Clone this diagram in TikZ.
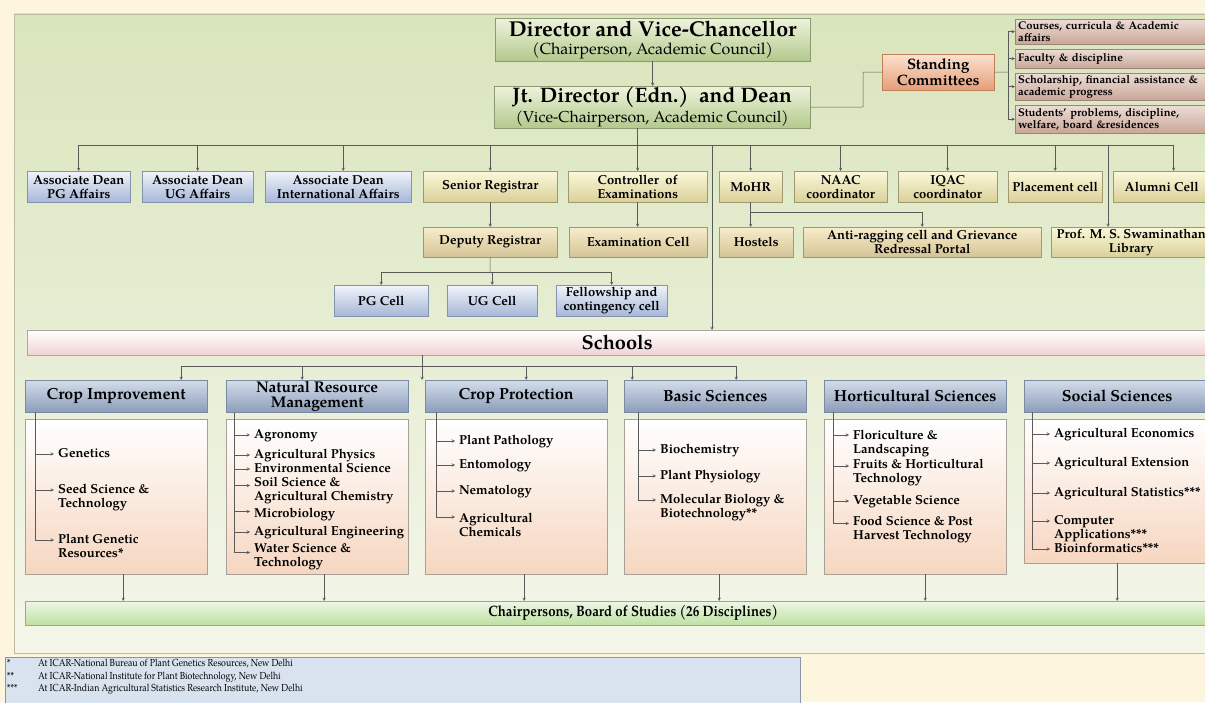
\documentclass[tikz,border=0pt]{standalone}
\usepackage{fontspec}
\setmainfont{texgyrepagella}[Extension=.otf,UprightFont=*-regular,BoldFont=*-bold,ItalicFont=*-italic,BoldItalicFont=*-bolditalic]

\definecolor{cream}{HTML}{FDF5DD}
\definecolor{panelTop}{HTML}{D9E5BC}
\definecolor{panelBot}{HTML}{F4F6EA}
\definecolor{panelLine}{HTML}{B9BCA0}
\definecolor{lineGray}{HTML}{5A5A5A}
\definecolor{dirTop}{HTML}{EEF3DC}
\definecolor{dirBot}{HTML}{B3C98D}
\definecolor{dirLine}{HTML}{8C9A72}
\definecolor{stTop}{HTML}{FBE2D0}
\definecolor{stBot}{HTML}{E59E78}
\definecolor{stLine}{HTML}{BF7D58}
\definecolor{cmTop}{HTML}{EDDDD6}
\definecolor{cmBot}{HTML}{C9A698}
\definecolor{cmLine}{HTML}{9C8478}
\definecolor{bluTop}{HTML}{F0F4FB}
\definecolor{bluBot}{HTML}{A6B7D6}
\definecolor{bluLine}{HTML}{8393AE}
\definecolor{ylwTop}{HTML}{FBF8DA}
\definecolor{ylwBot}{HTML}{D9D098}
\definecolor{tanTop}{HTML}{F7EDCB}
\definecolor{tanBot}{HTML}{D5C396}
\definecolor{ylwLine}{HTML}{A09870}
\definecolor{schBot}{HTML}{EFD3D3}
\definecolor{schLine}{HTML}{AFA8A0}
\definecolor{hdTop}{HTML}{D3DCEA}
\definecolor{hdBot}{HTML}{8C9DBA}
\definecolor{hdLine}{HTML}{7A8AA2}
\definecolor{cbBot}{HTML}{F6D6C0}
\definecolor{cbLine}{HTML}{A9A198}
\definecolor{chTop}{HTML}{EEF7E6}
\definecolor{chBot}{HTML}{BDE0A2}
\definecolor{chLine}{HTML}{98A888}
\definecolor{fnFill}{HTML}{D9E3EF}
\definecolor{fnLine}{HTML}{8A96A8}

\newcommand{\fsz}[2]{\fontsize{#1}{#2}\selectfont}

\begin{document}
\begin{tikzpicture}[x=1pt,y=1pt,>=stealth,
    line/.style={draw=lineGray,line width=0.5pt},
    arr/.style={line,->},
    abox/.style={anchor=north west,inner sep=1pt,align=center,font=\bfseries\fsz{13}{14}},
    dirbox/.style={abox,draw=dirLine,top color=dirTop,bottom color=dirBot},
    stbox/.style={abox,draw=stLine,top color=stTop,bottom color=stBot,font=\bfseries\fsz{15}{16}},
    cmbox/.style={abox,align=left,text width=189,inner xsep=3pt,draw=cmLine,top color=cmTop,bottom color=cmBot,font=\bfseries\fsz{11.2}{12}},
    bluebox/.style={abox,draw=bluLine,top color=bluTop,bottom color=bluBot},
    ylwbox/.style={abox,draw=ylwLine,top color=ylwTop,bottom color=ylwBot},
    tanbox/.style={abox,draw=ylwLine,top color=tanTop,bottom color=tanBot},
    schbox/.style={abox,draw=schLine,top color=white,bottom color=schBot,font=\bfseries\fsz{20}{20}},
    hdbox/.style={abox,draw=hdLine,top color=hdTop,bottom color=hdBot,minimum width=182,minimum height=32,font=\bfseries\fsz{16}{15}},
    cbox/.style={anchor=north west,draw=cbLine,top color=white,bottom color=cbBot,minimum width=182,minimum height=155},
    item/.style={anchor=north west,inner xsep=4pt,inner ysep=0pt,align=left,font=\bfseries\fsz{13}{14}},
    chbox/.style={abox,draw=chLine,top color=chTop,bottom color=chBot,font=\bfseries\fsz{15}{14}\addfontfeatures{FakeStretch=0.88}}]
\useasboundingbox (0,0) rectangle (1205,702);
% background
\fill[cream] (0,0) rectangle (1205,702);
\path[draw=panelLine,top color=panelTop,bottom color=panelBot] (14,49) rectangle (1215,688);
\path[draw=fnLine,fill=fnFill] (5,-5) rectangle (800,45);

% top of the chart
\node[dirbox,minimum width=315,minimum height=43] (dir) at (495,684) {{\fsz{21.5}{22}Director and Vice-Chancellor}\\[4pt]{\mdseries\fsz{16}{16}(Chairperson, Academic Council)}};
\node[dirbox,minimum width=316,minimum height=42] (jt) at (494,616) {{\fsz{21}{22}Jt. Director (Edn.)\ \ and Dean}\\[2pt]{\mdseries\fsz{15.8}{16}(Vice-Chairperson, Academic Council)}};
\node[stbox,minimum width=112,minimum height=36] (stc) at (882,648) {Standing\\Committees};
\node[cmbox,minimum height=25] (cm1) at (1015,683) {Courses, curricula \& Academic\\affairs};
\node[cmbox,minimum height=19] (cm2) at (1015,653) {Faculty \& discipline};
\node[cmbox,minimum height=27] (cm3) at (1015,629) {Scholarship, financial assistance \&\\academic progress};
\node[cmbox,minimum height=28] (cm4) at (1015,597) {Students' problems, discipline,\\welfare, board \&residences};

% first row
\node[bluebox,minimum width=103,minimum height=31] (adpg) at (27,531) {Associate Dean\\PG Affairs};
\node[bluebox,minimum width=111,minimum height=31] (adug) at (142,531) {Associate Dean\\UG Affairs};
\node[bluebox,minimum width=146,minimum height=31] (adint) at (265,531) {Associate Dean\\International Affairs};
\node[ylwbox,minimum width=134,minimum height=31] (senreg) at (423,531) {Senior Registrar};
\node[ylwbox,minimum width=139,minimum height=31] (contr) at (568,531) {Controller\ \ of\\Examinations};
\node[ylwbox,minimum width=63,minimum height=31] (mohr) at (719,531) {MoHR};
\node[ylwbox,minimum width=93,minimum height=31] (naac) at (794,531) {NAAC\\coordinator};
\node[ylwbox,minimum width=99,minimum height=31] (iqac) at (898,531) {IQAC\\coordinator};
\node[ylwbox,minimum width=94,minimum height=31] (place) at (1008,531) {Placement cell};
\node[ylwbox,minimum width=97,minimum height=31] (alumni) at (1113,531) {Alumni Cell};

% second and third row
\node[tanbox,minimum width=134,minimum height=30] (depreg) at (423,475) {Deputy Registrar};
\node[tanbox,minimum width=138,minimum height=30] (exam) at (569,475) {Examination Cell};
\node[tanbox,minimum width=74,minimum height=30] (hostel) at (719,475) {Hostels};
\node[tanbox,minimum width=238,minimum height=30] (anti) at (803,475) {Anti-ragging cell and Grievance\\Redressal Portal};
\node[ylwbox,minimum width=160,minimum height=30] (lib) at (1051,475) {Prof. M. S. Swaminathan\\Library};
\node[bluebox,minimum width=94,minimum height=31] (pgc) at (334,417) {PG Cell};
\node[bluebox,minimum width=90,minimum height=31] (ugc) at (447,417) {UG Cell};
\node[bluebox,minimum width=111,minimum height=31] (fell) at (556,417) {Fellowship and\\contingency cell};

\node[schbox,minimum width=1180,minimum height=25] (schools) at (27,372) {Schools};

% schools
\node[hdbox] (hci) at (25,322) {Crop Improvement};
\node[hdbox,font=\bfseries\fsz{15.5}{15}] (hnrm) at (226,322) {Natural Resource\\Management};
\node[hdbox] (hcp) at (425,322) {Crop Protection};
\node[hdbox] (hbs) at (624,322) {Basic Sciences};
\node[hdbox] (hhs) at (824,322) {Horticultural Sciences};
\node[hdbox,minimum width=186] (hss) at (1024,322) {Social Sciences};
\node[cbox] (cci) at (25,283) {};
\node[cbox] (cnrm) at (226,283) {};
\node[cbox] (ccp) at (425,283) {};
\node[cbox] (cbs) at (624,283) {};
\node[cbox] (chs) at (824,283) {};
\node[cbox,minimum width=186,minimum height=144] (css) at (1024,283) {};

\node[item] (ci1) at (54,254) {Genetics};
\node[item] (ci2) at (54,218) {Seed Science \&\\Technology};
\node[item] (ci3) at (54,168) {Plant Genetic\\Resources*};
\node[item] (nr1) at (250,273) {Agronomy};
\node[item] (nr2) at (250,253) {Agricultural Physics};
\node[item] (nr3) at (250,239) {Environmental Science};
\node[item] (nr4) at (250,225) {Soil Science \&\\Agricultural Chemistry};
\node[item] (nr5) at (250,194) {Microbiology};
\node[item] (nr6) at (250,176) {Agricultural Engineering};
\node[item] (nr7) at (250,159) {Water Science \&\\Technology};
\node[item] (cp1) at (455,267) {Plant Pathology};
\node[item] (cp2) at (455,243) {Entomology};
\node[item] (cp3) at (455,217) {Nematology};
\node[item] (cp4) at (455,189) {Agricultural\\Chemicals};
\node[item] (bs1) at (656,258) {Biochemistry};
\node[item] (bs2) at (656,232) {Plant Physiology};
\node[item] (bs3) at (656,208) {Molecular Biology \&\\Biotechnology**};
\node[item] (hs1) at (849,272) {Floriculture \&\\Landscaping};
\node[item] (hs2) at (849,243) {Fruits \& Horticultural\\Technology};
\node[item] (hs3) at (849,207) {Vegetable Science};
\node[item] (hs4) at (849,186) {Food Science \& Post\\Harvest Technology};
\node[item] (ss1) at (1050,274) {Agricultural Economics};
\node[item] (ss2) at (1050,245) {Agricultural Extension};
\node[item] (ss3) at (1050,215) {Agricultural Statistics***};
\node[item] (ss4) at (1050,187) {Computer\\Applications***};
\node[item] (ss5) at (1050,159) {Bioinformatics***};

\node[chbox,minimum width=1216,minimum height=24] (chair) at (25,101) {Chairpersons, Board of Studies (26 Disciplines)};
\node[anchor=north west,inner sep=0pt,font=\fsz{10.2}{12.5}\addfontfeatures{FakeStretch=0.86}] (fn) at (7,44) {\begin{tabular}{@{}p{31pt}@{}l@{}}{*}&At ICAR-National Bureau of Plant Genetics Resources, New Delhi\\{**}&At ICAR-National Institute for Plant Biotechnology, New Delhi\\{***}&At ICAR-Indian Agricultural Statistics Research Institute, New Delhi\end{tabular}};

% connectors
\coordinate (sj) at (863,595);
\coordinate (cj) at (1008,630);
\coordinate (b1) at (637.5,557);
\coordinate (lj) at (1108,557);
\coordinate (sc) at (712,557);
\coordinate (mj) at (750.5,490);
\coordinate (dj) at (490,430);
\coordinate (sb) at (422,336);
\coordinate (sbend) at (422,322);
\draw[arr] (dir.south) -- (dir.south |- jt.north);
\draw[line] (jt.east) -- (sj) |- (stc.west);
\draw[line] (stc.east) -- (cj);
\draw[arr] (cj) |- (cm1.west);
\draw[arr] (cj) |- (cm2.west);
\draw[arr] (cj) |- (cm3.west);
\draw[arr] (cj) |- (cm4.west);
\draw[arr] (jt.south -| contr.north) -- (contr.north);
\draw[arr] (b1) -| (adpg);
\draw[arr] (b1) -| (adug);
\draw[arr] (b1) -| ([xshift=5]adint.north);
\draw[arr] (b1) -| (senreg);
\draw[arr] (b1) -| (mohr);
\draw[arr] (b1) -| (naac);
\draw[arr] (b1) -| (iqac);
\draw[arr] (b1) -| (place);
\draw[arr] (b1) -| ([xshift=12]alumni.north);
\draw[arr] (lj) -- (lj |- lib.north);
\draw[arr] (sc) -- (sc |- schools.north);
\draw[arr] (senreg) -- (depreg);
\draw[arr] (contr.south) -- (contr.south |- exam.north);
\draw[arr] (mohr.south) -- (mohr.south |- hostel.north);
\draw[arr] (mj) -| (anti);
\draw[line] (depreg.south) -- (dj);
\draw[arr] (dj) -| (pgc);
\draw[arr] (dj) -| (ugc);
\draw[arr] (dj) -| (fell);
\draw[arr] (schools.south -| sb) -- (sbend);
\draw[arr] (sb) -| ([xshift=65]hci.north);
\draw[arr] (sb) -| ([xshift=-15]hnrm.north);
\draw[arr] (sb) -| ([xshift=10]hcp.north);
\draw[arr] (sb) -| ([xshift=-83]hbs.north);
\draw[arr] (sb) -| ([xshift=21]hbs.north);
\draw[arr] (hci.south -| 35,0) |- ([yshift=-6]ci1.north west);
\draw[arr] (hci.south -| 35,0) |- ([yshift=-6]ci2.north west);
\draw[arr] (hci.south -| 35,0) |- ([yshift=-6]ci3.north west);
\draw[arr] (hnrm.south -| 234,0) |- ([yshift=-6]nr1.north west);
\draw[arr] (hnrm.south -| 234,0) |- ([yshift=-6]nr2.north west);
\draw[arr] (hnrm.south -| 234,0) |- ([yshift=-6]nr3.north west);
\draw[arr] (hnrm.south -| 234,0) |- ([yshift=-8.5]nr4.north west);
\draw[arr] (hnrm.south -| 234,0) |- ([yshift=-3.5]nr5.north west);
\draw[arr] (hnrm.south -| 234,0) |- ([yshift=-6]nr6.north west);
\draw[arr] (hnrm.south -| 234,0) |- ([yshift=-9.5]nr7.north west);
\draw[arr] (hcp.south -| 436,0) |- ([yshift=-6]cp1.north west);
\draw[arr] (hcp.south -| 436,0) |- ([yshift=-6]cp2.north west);
\draw[arr] (hcp.south -| 436,0) |- ([yshift=-6]cp3.north west);
\draw[arr] (hcp.south -| 436,0) |- ([yshift=-4]cp4.north west);
\draw[arr] (hbs.south -| 638,0) |- ([yshift=-6]bs1.north west);
\draw[arr] (hbs.south -| 638,0) |- ([yshift=-6]bs2.north west);
\draw[arr] (hbs.south -| 638,0) |- ([yshift=-6]bs3.north west);
\draw[arr] (hhs.south -| 833,0) |- ([yshift=-5]hs1.north west);
\draw[arr] (hhs.south -| 833,0) |- ([yshift=-7]hs2.north west);
\draw[arr] (hhs.south -| 833,0) |- ([yshift=-6]hs3.north west);
\draw[arr] (hhs.south -| 833,0) |- ([yshift=-7.5]hs4.north west);
\draw[arr] (hss.south -| 1032,0) |- ([yshift=-6]ss1.north west);
\draw[arr] (hss.south -| 1032,0) |- ([yshift=-6]ss2.north west);
\draw[arr] (hss.south -| 1032,0) |- ([yshift=-6]ss3.north west);
\draw[arr] (hss.south -| 1032,0) |- ([yshift=-6]ss4.north west);
\draw[arr] (hss.south -| 1032,0) |- ([yshift=-6]ss5.north west);
\draw[arr] ([xshift=7]cci.south) -- ([xshift=7]cci.south |- chair.north);
\draw[arr] ([xshift=7]cnrm.south) -- ([xshift=7]cnrm.south |- chair.north);
\draw[arr] ([xshift=8]ccp.south) -- ([xshift=8]ccp.south |- chair.north);
\draw[arr] ([xshift=4]cbs.south) -- ([xshift=4]cbs.south |- chair.north);
\draw[arr] ([xshift=10]chs.south) -- ([xshift=10]chs.south |- chair.north);
\draw[arr] (css.south) -- (css.south |- chair.north);
\end{tikzpicture}
\end{document}
